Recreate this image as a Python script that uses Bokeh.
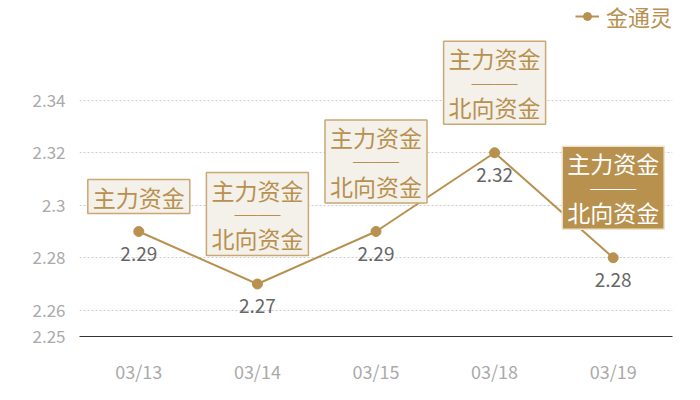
from bokeh.plotting import figure
from bokeh.models import ColumnDataSource, FixedTicker, Legend, LegendItem
from bokeh.core.properties import value
from bokeh.embed import file_html
from bokeh.resources import INLINE

# ---- data ----
categories = ["03/13", "03/14", "03/15", "03/18", "03/19"]
prices = [2.29, 2.27, 2.29, 2.32, 2.28]
price_labels = ["2.29", "2.27", "2.29", "2.32", "2.28"]
notes = ["主力资金", "主力资金\n──\n北向资金", "主力资金\n──\n北向资金",
         "主力资金\n──\n北向资金", "主力资金\n──\n北向资金"]
highlighted = [False, False, False, False, True]
yticks = [2.25, 2.26, 2.28, 2.30, 2.32, 2.34]
ytick_labels = ["2.25", "2.26", "2.28", "2.3", "2.32", "2.34"]
series_name = "金通灵"

# ---- style ----
GOLD = "#b8914f"
LIGHT_FILL = "#f4f0ea"
LIGHT_BORDER = "#c9a872"
FONT = "Noto Sans CJK SC"
note_offsets = [-35, -70, -70, -70, -70]

p = figure(x_range=categories, y_range=(2.25, 2.378), width=684, height=386,
           output_backend="svg", toolbar_location=None,
           min_border_left=79, min_border_right=12, min_border_top=0,
           min_border_bottom=49)
p.outline_line_color = None
p.background_fill_color = "white"

line_r = p.line(categories, prices, line_color=GOLD, line_width=2)
pt_r = p.scatter(categories, prices, size=10, fill_color=GOLD, line_color=GOLD)

# value labels
p.text(x=categories, y=prices, text=price_labels, text_align="center",
       text_baseline="middle", y_offset=22, text_color="#666666",
       text_font=value(FONT), text_font_size="19px")

# annotation boxes
src = ColumnDataSource(dict(
    x=categories, y=prices, text=notes,
    off=note_offsets,
    fill=[GOLD if h else LIGHT_FILL for h in highlighted],
    border=["#efe3cc" if h else LIGHT_BORDER for h in highlighted],
    color=["#ffffff" if h else GOLD for h in highlighted],
))
p.text(x="x", y="y", text="text", source=src, y_offset="off",
       text_align="center", text_baseline="middle",
       text_color="color", text_font=value(FONT), text_font_size="23px",
       text_line_height=0.72,
       background_fill_color="fill", border_line_color="border",
       border_line_width=1.5,
       padding=dict(left=5, right=5, top=0, bottom=0))

# axes
p.yaxis.ticker = FixedTicker(ticks=yticks)
p.yaxis.major_label_overrides = {t: l for t, l in zip(yticks, ytick_labels)}
p.yaxis.axis_line_color = None
p.yaxis.major_tick_line_color = None
p.yaxis.minor_tick_line_color = None
p.yaxis.major_label_standoff = 8
p.yaxis.major_label_text_color = "#aaaaaa"
p.yaxis.major_label_text_font = FONT
p.yaxis.major_label_text_font_size = "17px"

p.xaxis.axis_line_color = "#333333"
p.xaxis.axis_line_width = 1
p.xaxis.major_tick_line_color = None
p.xaxis.minor_tick_line_color = None
p.xaxis.major_label_standoff = 15
p.xaxis.major_label_text_color = "#aaaaaa"
p.xaxis.major_label_text_font = FONT
p.xaxis.major_label_text_font_size = "18px"

p.xgrid.grid_line_color = None
p.ygrid.ticker = FixedTicker(ticks=yticks)
p.ygrid.grid_line_color = "#cccccc"
p.ygrid.grid_line_dash = "2 2"

legend = Legend(items=[LegendItem(label=series_name, renderers=[line_r, pt_r])],
                location="top_right", margin=0, padding=0,
                border_line_color=None, background_fill_alpha=0,
                glyph_width=24, label_standoff=7,
                label_text_color=GOLD, label_text_font=FONT,
                label_text_font_size="22px")
p.add_layout(legend)

open("out.html", "w").write(file_html(p, INLINE))
